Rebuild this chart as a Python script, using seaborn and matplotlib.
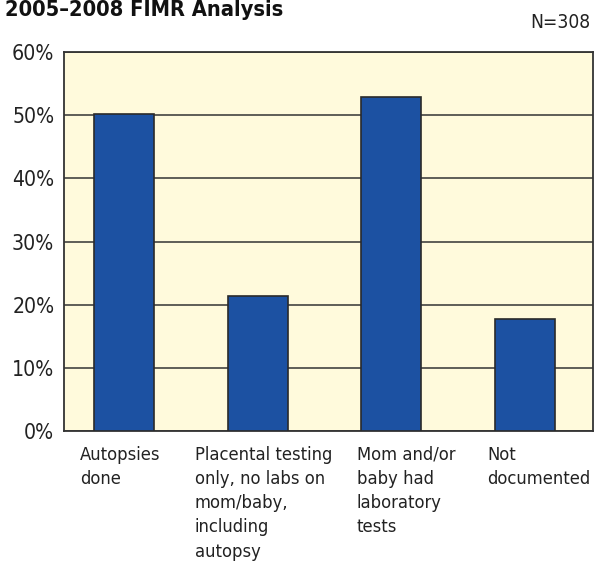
import matplotlib
matplotlib.use('Agg')
import matplotlib.pyplot as plt
from matplotlib import font_manager
import pandas as pd
import seaborn as sns

categories = ['Autopsies done',
              'Placental testing only, no labs on mom/baby, including autopsy',
              'Mom and/or baby had laboratory tests',
              'Not documented']
label_lines = ['Autopsies\ndone',
               'Placental testing\nonly, no labs on\nmom/baby,\nincluding\nautopsy',
               'Mom and/or\nbaby had\nlaboratory\ntests',
               'Not\ndocumented']
percents = [50.2, 21.4, 52.9, 17.7]
yticks = [0, 10, 20, 30, 40, 50, 60]
title = '2005\u20132008 FIMR Analysis'
note = 'N=308'

# look for a condensed face (the reference uses a narrow grotesque)
fonts = font_manager.fontManager.ttflist
has_cond = any(f.name == 'DejaVu Sans' and str(f.stretch) in ('condensed', '400', 'semi-condensed')
               for f in fonts)
narrow = 'Liberation Sans Narrow' in {f.name for f in fonts}
if narrow:
    family, stretch, k = 'Liberation Sans Narrow', 'normal', 1.0
elif has_cond:
    family, stretch, k = 'DejaVu Sans', 'condensed', 0.92
else:
    family, stretch, k = 'Liberation Sans', 'normal', 0.95

sns.set_style('white')
plt.rcParams['font.family'] = [family, 'DejaVu Sans']
plt.rcParams['font.stretch'] = stretch

data = pd.DataFrame({'category': categories, 'percent': percents})

fig = plt.figure(figsize=(5.95, 5.65), dpi=100)
ax = fig.add_axes([64 / 595, 1 - 431 / 565, 529 / 595, 379 / 565])
ax.set_facecolor('#fffadc')

sns.barplot(data=data, x='category', y='percent', order=categories,
            color='#1c51a2', saturation=1, width=0.45,
            edgecolor='#2a2a2a', linewidth=1.2, ax=ax, zorder=3)

ax.set_ylim(0, 60)
ax.set_xlim(-0.45, 3.51)
ax.set_yticks(yticks)
ax.set_yticklabels([f'{t}%' for t in yticks], fontsize=16.5 * k, color='#222')
ax.yaxis.grid(True, color='#333', linewidth=1.1, zorder=1)
ax.set_axisbelow(True)
ax.tick_params(axis='y', length=0, pad=7)
ax.set_xticks([])
ax.set_xlabel('')
ax.set_ylabel('')
for s in ax.spines.values():
    s.set_visible(True)
    s.set_color('#333')
    s.set_linewidth(1.3)

# category labels, left aligned under each bar
label_offsets = [-0.33, -0.47, -0.26, -0.28]
for i, (lab, off) in enumerate(zip(label_lines, label_offsets)):
    ax.text(i + off, -2.3, lab, ha='left', va='top', fontsize=14.3 * k,
            color='#222', linespacing=1.45, transform=ax.transData)

fig.text(5 / 595, 1 - 0 / 565, title, ha='left', va='top', fontsize=17 * k,
         fontweight='bold', color='#111')
fig.text(590 / 595, 1 - 13 / 565, note, ha='right', va='top', fontsize=15 * k,
         color='#222')

fig.savefig('out.png', dpi=100)
